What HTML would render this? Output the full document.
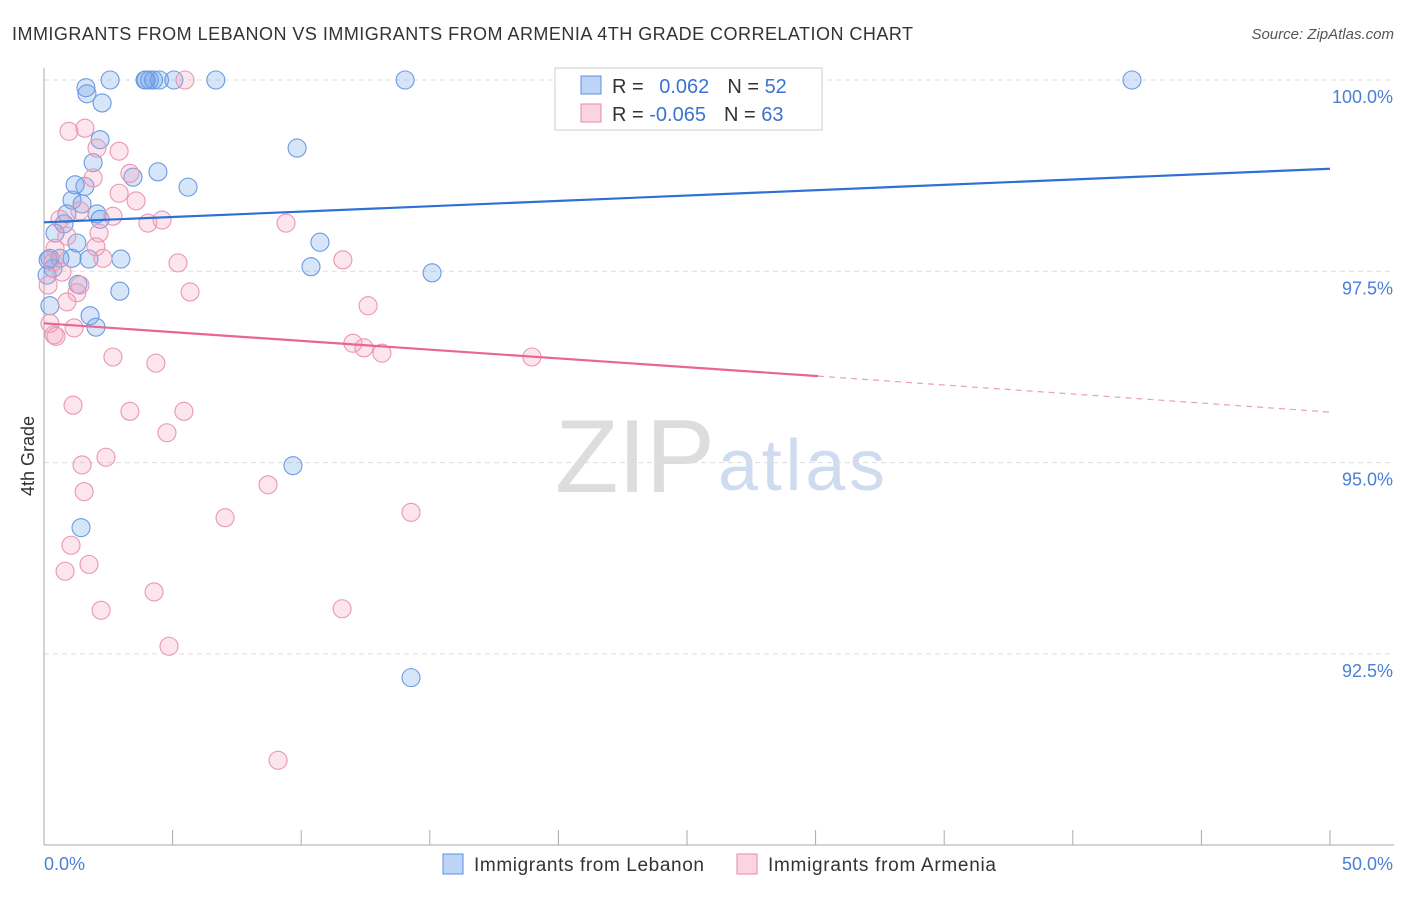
<!DOCTYPE html>
<html><head><meta charset="utf-8"><style>
body{margin:0;background:#fff;font-family:"Liberation Sans",sans-serif;}
svg text{font-family:"Liberation Sans",sans-serif;}
</style></head><body>
<svg id="chart" width="1406" height="892" xmlns="http://www.w3.org/2000/svg">
<text x="12" y="40" font-size="18" fill="#333" textLength="901">IMMIGRANTS FROM LEBANON VS IMMIGRANTS FROM ARMENIA 4TH GRADE CORRELATION CHART</text>
<text x="1394" y="39" font-size="15" fill="#555" text-anchor="end" font-style="italic">Source: ZipAtlas.com</text>
<text x="555" y="492" font-size="104" fill="#ddd" textLength="160" font-family="Liberation Serif">ZIP</text>
<text x="718" y="490" font-size="72" fill="#cfdcf0" textLength="167">atlas</text>
<g id="grid"></g>
<g id="axes"></g>
<g id="pts"></g>
<g id="trend"></g>
<text transform="translate(34,456) rotate(-90)" font-size="18" fill="#333" text-anchor="middle">4th Grade</text>
<g>
<rect x="555" y="68" width="267" height="62" fill="#fff" stroke="#ccc"/>
<rect x="581" y="76" width="20" height="18" fill="rgba(110,160,235,0.45)" stroke="#5b8fe0"/>
<rect x="581" y="104" width="20" height="18" fill="rgba(245,160,190,0.45)" stroke="#e88aa8"/>
<text x="612" y="93" font-size="20" fill="#333">R = <tspan fill="#3b73d1" dx="10">0.062</tspan><tspan dx="18">N = </tspan><tspan fill="#3b73d1">52</tspan></text>
<text x="612" y="121" font-size="20" fill="#333">R = <tspan fill="#3b73d1">-0.065</tspan><tspan dx="18">N = </tspan><tspan fill="#3b73d1">63</tspan></text>
</g>
<g>
<rect x="443" y="854" width="20" height="20" fill="rgba(110,160,235,0.45)" stroke="#5b8fe0"/>
<text x="474" y="871" font-size="19" fill="#333" textLength="230">Immigrants from Lebanon</text>
<rect x="737" y="854" width="20" height="20" fill="rgba(245,160,190,0.45)" stroke="#e88aa8"/>
<text x="768" y="871" font-size="19" fill="#333" textLength="228">Immigrants from Armenia</text>
</g>
</svg>
<script>
const blueX=[1.63,1.67,2.26,2.57,3.93,3.97,4.1,4.26,4.49,5.05,6.68,14.04,42.3,2.18,1.91,9.84,4.43,3.46,5.6,1.21,1.59,1.09,1.48,0.89,2.06,2.18,0.78,0.43,1.28,10.73,0.23,0.62,1.09,1.75,2.99,10.38,15.09,0.35,2.95,1.32,0.23,1.79,2.02,9.68,1.44,14.27,0.16,0.12];
const blueY=[99.9,99.82,99.7,100,100,100,100,100,100,100,100,100,100,99.22,98.92,99.11,98.8,98.73,98.6,98.63,98.61,98.43,98.38,98.25,98.25,98.18,98.12,98.0,97.87,97.88,97.67,97.67,97.67,97.66,97.66,97.56,97.48,97.54,97.24,97.33,97.05,96.92,96.77,94.96,94.15,92.19,97.65,97.45];
const pinkX=[5.48,29.0,0.97,1.59,2.06,2.92,1.91,3.34,2.92,3.58,1.4,2.68,0.62,4.04,4.59,9.41,2.14,0.89,0.43,2.02,2.29,0.35,5.21,11.62,0.7,1.4,5.68,1.28,12.6,0.89,0.23,1.17,0.39,0.47,12.01,12.44,13.14,2.68,18.97,4.35,1.13,3.34,5.44,4.78,1.48,2.41,1.56,8.71,7.04,14.27,1.05,1.75,0.82,2.22,4.28,11.59,4.86,9.1,0.16];
const pinkY=[100,100,99.33,99.37,99.11,99.07,98.72,98.78,98.52,98.42,98.29,98.22,98.18,98.13,98.17,98.13,98.0,97.96,97.8,97.82,97.67,97.62,97.61,97.65,97.49,97.32,97.23,97.22,97.05,97.1,96.82,96.76,96.67,96.65,96.56,96.5,96.43,96.38,96.38,96.3,95.75,95.67,95.67,95.39,94.97,95.07,94.62,94.71,94.28,94.35,93.92,93.67,93.58,93.07,93.31,93.09,92.6,91.11,97.32];
const blueTrendX=[0,50];
const blueTrendY=[98.14,98.84];
const pinkTrendX=[0,30.1,50];
const pinkTrendY=[96.82,96.13,95.66];
const yTicks=[100,97.5,95,92.5];
const yTickLabels=["100.0%","97.5%","95.0%","92.5%"];
const xTicks=[0,5,10,15,20,25,30,35,40,45,50];
const NS="http://www.w3.org/2000/svg";
const sx=v=>44+v*25.72;
const sy=v=>80+(100-v)*76.52;
function mk(tag,attrs,parent){const e=document.createElementNS(NS,tag);for(const k in attrs)e.setAttribute(k,attrs[k]);document.getElementById(parent).appendChild(e);return e;}
yTicks.forEach((t,i)=>{
  const l=mk('line',{x1:44,x2:1394,y1:sy(t),y2:sy(t),stroke:'#ddd','stroke-dasharray':'5,4'},'grid');
  
  
  const tx=mk('text',{x:1393,y:sy(t)+23,'font-size':18,fill:'#4a7fd6','text-anchor':'end'},'grid');
  tx.textContent=yTickLabels[i];
  
  
});
let a=mk('line',{x1:44,x2:44,y1:68,y2:845,stroke:'#aaa'},'axes');


a=mk('line',{x1:44,x2:1394,y1:845,y2:845,stroke:'#aaa'},'axes');


xTicks.forEach(t=>{
  const l=mk('line',{x1:sx(t),x2:sx(t),y1:830,y2:845,stroke:'#aaa'},'axes');
  
  
});
let t0=mk('text',{x:44,y:870,'font-size':18,fill:'#4a7fd6'},'axes');t0.textContent='0.0%';


let t1=mk('text',{x:1393,y:870,'font-size':18,fill:'#4a7fd6','text-anchor':'end'},'axes');t1.textContent='50.0%';


blueX.forEach((x,i)=>{
  const c=mk('circle',{cx:sx(x),cy:sy(blueY[i]),r:9,fill:'rgba(110,160,235,0.28)',stroke:'#6a9ae3','stroke-width':1.1},'pts');
  
  
});
pinkX.forEach((x,i)=>{
  const c=mk('circle',{cx:sx(x),cy:sy(pinkY[i]),r:9,fill:'rgba(245,160,190,0.28)',stroke:'#eb96b2','stroke-width':1.1},'pts');
  
  
});
let bl=mk('line',{x1:sx(blueTrendX[0]),y1:sy(blueTrendY[0]),x2:sx(blueTrendX[1]),y2:sy(blueTrendY[1]),stroke:'#2f6fd6','stroke-width':2.2},'trend');


let pl=mk('line',{x1:sx(pinkTrendX[0]),y1:sy(pinkTrendY[0]),x2:sx(pinkTrendX[1]),y2:sy(pinkTrendY[1]),stroke:'#e8668f','stroke-width':2.2},'trend');


let pd=mk('line',{x1:sx(pinkTrendX[1]),y1:sy(pinkTrendY[1]),x2:sx(pinkTrendX[2]),y2:sy(pinkTrendY[2]),stroke:'#e8a0b8','stroke-width':1.2,'stroke-dasharray':'6,5'},'trend');


</script>
</body></html>
